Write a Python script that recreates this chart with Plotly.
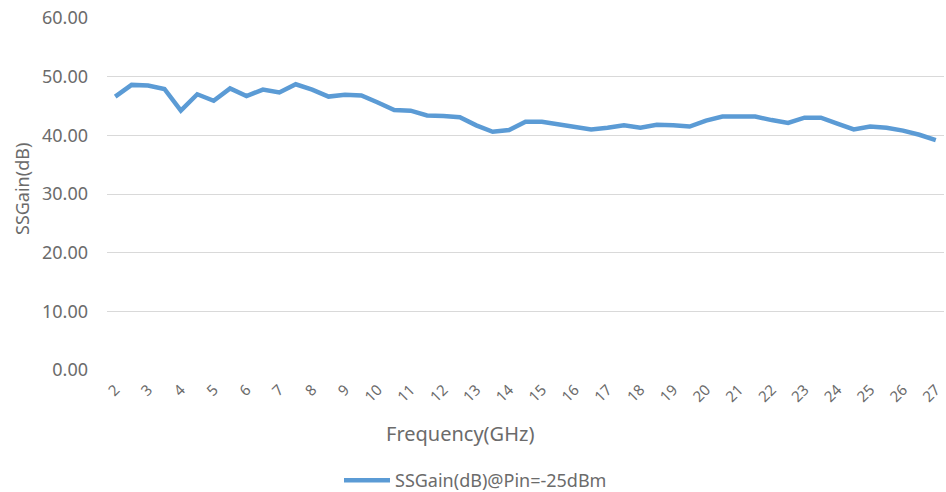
import plotly.graph_objects as go

freq = [2 + 0.5 * i for i in range(51)]
gain = [46.6, 48.6, 48.5, 47.9, 44.2, 47.0, 45.9, 48.0, 46.7, 47.8,
        47.3, 48.7, 47.8, 46.6, 46.9, 46.8, 45.6, 44.3, 44.2, 43.4,
        43.3, 43.1, 41.7, 40.6, 40.9, 42.3, 42.3, 41.9, 41.5, 41.0,
        41.3, 41.7, 41.3, 41.8, 41.7, 41.5, 42.5, 43.2, 43.2, 43.2,
        42.6, 42.1, 43.0, 43.0, 42.0, 41.0, 41.5, 41.3, 40.8, 40.1,
        39.2]
x_ticks = list(range(2, 28))
x_tick_labels = [str(v) for v in x_ticks]
series_name = "SSGain(dB)@Pin=-25dBm"

FONT = "Noto Sans"
GRAY = "#6b6b6b"

L, R, T, B = 107, 2, 18, 122
W, H = 946, 492
pw = W - L - R
ph = H - T - B


def px(x):
    return (x - L) / pw


def py(y):
    return (H - B - y) / ph


fig = go.Figure()
fig.add_trace(go.Scatter(
    x=freq, y=gain, mode="lines", name=series_name,
    line=dict(color="#5B9BD5", width=4.5),
))

fig.update_layout(
    width=W, height=H,
    margin=dict(l=L, r=R, t=T, b=B, autoexpand=False),
    paper_bgcolor="white", plot_bgcolor="white",
    font=dict(family=FONT, color=GRAY, size=16),
    showlegend=True,
    legend=dict(orientation="h", x=px(339), y=py(462), xanchor="left", yanchor="top",
                font=dict(size=18, color=GRAY), itemwidth=46),
    xaxis=dict(
        range=[1.75, 27.25], tickmode="array", tickvals=x_ticks, ticktext=x_tick_labels,
        tickangle=-45, tickfont=dict(size=15, color=GRAY), showgrid=False,
        zeroline=False, showline=False, ticks="", automargin=False,
        ticklabelstandoff=7,
    ),
    yaxis=dict(
        range=[0, 60], dtick=10, tickformat=".2f", showgrid=True, gridcolor="#d9d9d9",
        gridwidth=1, zeroline=False, showline=False, ticks="", automargin=False,
        tickfont=dict(size=18, color=GRAY), ticklabelstandoff=18,
    ),
    annotations=[
        dict(text="Frequency(GHz)", x=px(460), xref="paper", y=py(433), yref="paper",
             xanchor="center", yanchor="middle",
             showarrow=False, font=dict(size=20, color=GRAY)),
        dict(text="SSGain(dB)", textangle=-90, showarrow=False,
             x=px(22), y=py(189), xref="paper", yref="paper",
             xanchor="center", yanchor="middle",
             font=dict(size=18, color=GRAY)),
    ],
)

fig.write_html("out.html", config={"displayModeBar": False},
               post_script="document.body.style.margin='0';")
